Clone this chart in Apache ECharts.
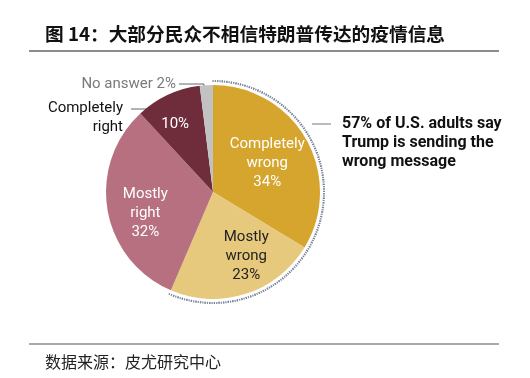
<!DOCTYPE html>
<html>
<head>
<meta charset="utf-8">
<script src="https://cdn.jsdelivr.net/npm/echarts@6/dist/echarts.min.js"></script>
<style>
  html, body { margin: 0; padding: 0; background: #fff; }
  #chart { width: 530px; height: 378px; }
</style>
</head>
<body>
<div id="chart"></div>
<script>
// survey answers, clockwise from 12 o'clock
const categories = ['Completely wrong', 'Mostly wrong', 'Mostly right', 'Completely right', 'No answer'];
const shares = [34, 23, 32, 10, 2];
const wrongCount = 2; // first two slices make up the "wrong message" group
const noteLines = ['57% of U.S. adults say', 'Trump is sending the', 'wrong message'];

var chart = echarts.init(document.getElementById('chart'));

var center = [213, 192];
var radius = 107;
var total = shares.reduce(function (a, b) { return a + b; }, 0);
var wrongTotal = shares.slice(0, wrongCount).reduce(function (a, b) { return a + b; }, 0);

var colors = ['#d6a52e', '#e6c97c', '#b6707f', '#6f2d3c', '#c2c2c2'];
var innerColors = ['#fff', '#222', '#fff', '#fff', '#fff'];
// nudges of inside labels from their default spot
var labelShift = [[5, -1], [16, 10], [-12, 12], [-14, -17], [0, 0]];

var innerData = categories.map(function (c, i) {
  return {
    name: c,
    value: shares[i],
    itemStyle: { color: colors[i] },
    label: { show: i < 4, color: innerColors[i] }
  };
});

var outerData = categories.map(function (c, i) {
  var show = i >= 3;
  return {
    name: c,
    value: shares[i],
    label: { show: show, color: i === 4 ? '#7a7a7a' : '#111' },
    labelLine: { show: show }
  };
});

var option = {
  backgroundColor: '#fff',
  animation: false,
  title: [{
    text: '图 14：大部分民众不相信特朗普传达的疫情信息',
    left: 40,
    top: 20,
    textStyle: {
      fontFamily: 'Noto Sans CJK SC',
      fontWeight: 'bold',
      fontSize: 18.7,
      color: '#111'
    }
  }, {
    text: '数据来源：皮尤研究中心',
    left: 40,
    top: 349,
    textStyle: {
      fontFamily: 'Noto Sans CJK SC',
      fontWeight: 'normal',
      fontSize: 16,
      color: '#222'
    }
  }],
  graphic: [
    { type: 'line', shape: { x1: 29, y1: 51, x2: 499, y2: 51 }, style: { stroke: '#8c8c8c', lineWidth: 2 } },
    { type: 'line', shape: { x1: 29, y1: 344, x2: 499, y2: 344 }, style: { stroke: '#8c8c8c', lineWidth: 1.5 } },
    { type: 'line', shape: { x1: 312, y1: 124, x2: 331, y2: 124 }, style: { stroke: '#777', lineWidth: 1 } },
    {
      type: 'text', left: 342, top: 114,
      style: {
        text: noteLines.join('\n'),
        fontFamily: 'Roboto',
        fontWeight: 'bold',
        fontSize: 16,
        lineHeight: 19,
        fill: '#111'
      }
    }
  ],
  series: [{
    // the pie itself, with inside labels
    type: 'pie',
    center: center,
    radius: radius,
    startAngle: 90,
    clockwise: true,
    avoidLabelOverlap: false,
    silent: true,
    label: {
      position: 'inside',
      fontFamily: 'Roboto',
      fontSize: 15,
      lineHeight: 19,
      formatter: function (p) {
        if (p.dataIndex === 3) return p.value + '%';
        return p.name.replace(' ', '\n') + '\n' + p.value + '%';
      }
    },
    labelLine: { show: false },
    labelLayout: function (p) {
      var s = labelShift[p.dataIndex];
      return { dx: s[0], dy: s[1] };
    },
    data: innerData
  }, {
    // transparent copy carrying the outside labels
    type: 'pie',
    center: center,
    radius: radius,
    startAngle: 90,
    clockwise: true,
    avoidLabelOverlap: false,
    silent: true,
    itemStyle: { color: 'rgba(0,0,0,0)' },
    label: {
      position: 'outside',
      fontFamily: 'Roboto',
      fontSize: 15,
      lineHeight: 19,
      formatter: function (p) {
        if (p.dataIndex === 4) return p.name + ' ' + p.value + '%';
        return p.name.replace(' ', '\n');
      }
    },
    labelLine: { lineStyle: { color: '#666', width: 1 } },
    labelLayout: function (p) {
      if (p.dataIndex === 4) {
        return {
          x: 176, y: 84, align: 'right', verticalAlign: 'middle',
          labelLinePoints: [[204, 93], [204, 84], [179, 84]]
        };
      }
      if (p.dataIndex === 3) {
        return {
          x: 123, y: 118, align: 'right', verticalAlign: 'middle',
          labelLinePoints: [[157, 109], [144, 109], [131, 109]]
        };
      }
    },
    data: outerData
  }, {
    // dotted arc around the "wrong" part
    type: 'gauge',
    center: center,
    radius: radius + 5,
    startAngle: 90,
    endAngle: 90 - wrongTotal / total * 360,
    clockwise: true,
    min: 0,
    max: 100,
    splitNumber: 85,
    silent: true,
    axisLine: { show: false, lineStyle: { width: 0 } },
    splitLine: { show: false },
    axisLabel: { show: false },
    pointer: { show: false },
    anchor: { show: false },
    title: { show: false },
    detail: { show: false },
    axisTick: {
      show: true,
      splitNumber: 2,
      distance: 0,
      length: 2,
      lineStyle: { color: '#7b8698', width: 1.2 }
    },
    data: []
  }]
};

chart.setOption(option);
</script>
</body>
</html>
